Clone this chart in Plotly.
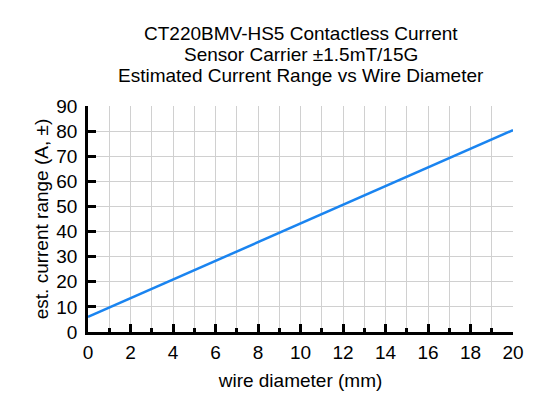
import plotly.graph_objects as go

# wire diameter (mm) vs estimated current range (A, ±)
wire_diameter = [0, 5, 10, 15, 20]
current_range = [6.0, 24.6, 43.2, 61.8, 80.4]

title_lines = [
    "CT220BMV-HS5 Contactless Current",
    "Sensor Carrier ±1.5mT/15G",
    "Estimated Current Range vs Wire Diameter",
]

fig = go.Figure()
fig.add_trace(go.Scatter(
    x=wire_diameter,
    y=current_range,
    mode='lines',
    line=dict(color='#1a84f0', width=2.5),
    showlegend=False,
))

# title as three separate lines so the line spacing stays tight
for i, line in enumerate(title_lines):
    fig.add_annotation(
        text=line,
        xref='paper', yref='paper',
        x=0.5, y=1.323 - i * 0.093,
        xanchor='center', yanchor='middle',
        showarrow=False,
        font=dict(size=19, color='black'),
    )

grid = '#d0d0d0'
fig.update_layout(
    width=560,
    height=400,
    paper_bgcolor='white',
    plot_bgcolor='white',
    font=dict(family='Liberation Sans, Arial, sans-serif', size=19, color='black'),
    margin=dict(l=80, r=55, t=98, b=76),
    xaxis=dict(
        title=dict(text='wire diameter (mm)', standoff=13, font=dict(size=19)),
        range=[0, 20],
        dtick=2,
        showline=True, linecolor='black', linewidth=2.5,
        ticks='inside', ticklen=8, tickwidth=2.5, tickcolor='black',
        ticklabelstandoff=1,
        showgrid=True, gridcolor=grid, gridwidth=1,
        minor=dict(dtick=1, ticks='inside', ticklen=4, tickwidth=2.5,
                   tickcolor='black', showgrid=True, gridcolor=grid),
        zeroline=False,
    ),
    yaxis=dict(
        title=dict(text='est. current range (A, ±)', standoff=3, font=dict(size=19)),
        range=[0, 90],
        dtick=10,
        showline=True, linecolor='black', linewidth=2.5,
        ticks='inside', ticklen=8, tickwidth=2.5, tickcolor='black',
        ticklabelstandoff=4,
        showgrid=True, gridcolor=grid, gridwidth=1,
        zeroline=False,
    ),
)

fig.write_html("out.html")
